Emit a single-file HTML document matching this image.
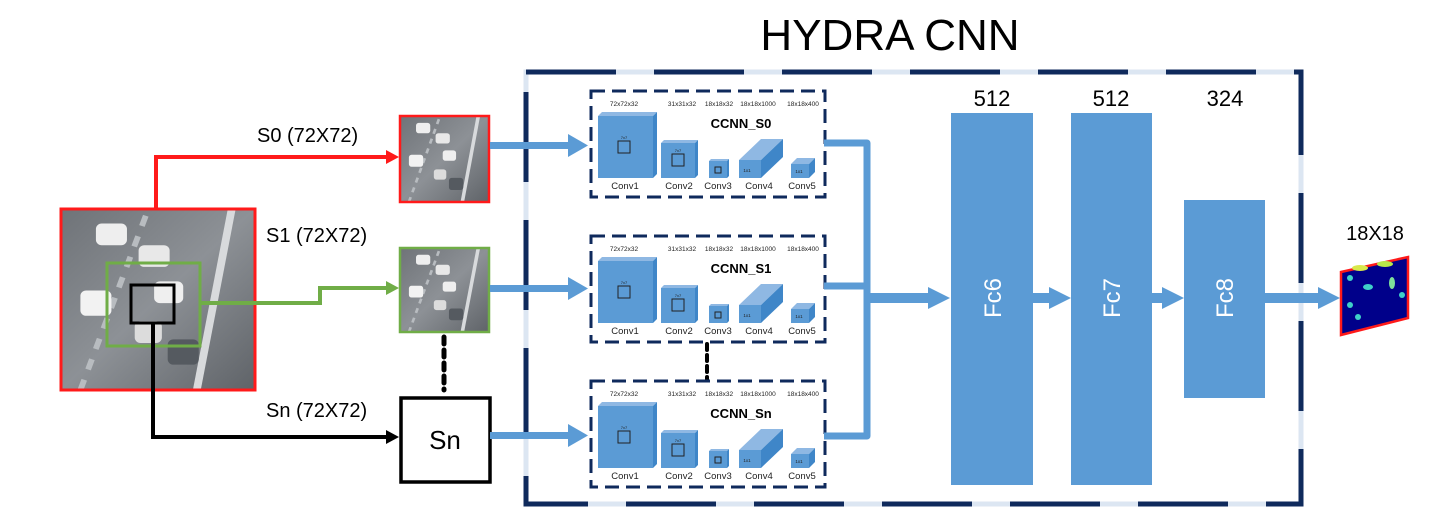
<!DOCTYPE html>
<html><head><meta charset="utf-8">
<style>
html,body{margin:0;padding:0;background:#fff;}
svg{display:block;}
text{font-family:"Liberation Sans","DejaVu Sans",sans-serif;}
</style></head>
<body>
<svg width="1434" height="530" viewBox="0 0 1434 530" xmlns="http://www.w3.org/2000/svg">
<defs>
  <linearGradient id="road" x1="0" y1="0" x2="1" y2="1">
    <stop offset="0" stop-color="#6f7378"/>
    <stop offset="0.5" stop-color="#8d9196"/>
    <stop offset="1" stop-color="#5f6368"/>
  </linearGradient>
  <g id="cube">
    <!-- generic placeholder unused -->
  </g>
  <g id="ccnn">
    <rect x="0" y="0" width="234" height="106" fill="#fff" stroke="#0f2a5c" stroke-width="3" stroke-dasharray="14 7"/>
    <g font-size="6.5" fill="#222" text-anchor="middle">
      <text x="33" y="15">72x72x32</text>
      <text x="91" y="15">31x31x32</text>
      <text x="128" y="15">18x18x32</text>
      <text x="167" y="15">18x18x1000</text>
      <text x="212" y="15">18x18x400</text>
    </g>
    <text x="150" y="37" font-size="13" font-weight="bold" text-anchor="middle" fill="#000">CCNN_S0</text>
    <!-- conv1 -->
    <polygon points="7,25 11,21 66,21 62,25" fill="#8fb8e3"/>
    <polygon points="62,25 66,21 66,83 62,87" fill="#3f86c8"/>
    <rect x="7" y="25" width="55" height="62" fill="#5b9bd5"/>
    <rect x="27" y="50" width="12" height="12" fill="none" stroke="#222" stroke-width="1"/>
    <text x="33" y="48" font-size="4" text-anchor="middle" fill="#222">7x7</text>
    <!-- conv2 -->
    <polygon points="70,52 73,49 107,49 104,52" fill="#8fb8e3"/>
    <polygon points="104,52 107,49 107,84 104,87" fill="#3f86c8"/>
    <rect x="70" y="52" width="34" height="35" fill="#5b9bd5"/>
    <rect x="81" y="63" width="12" height="12" fill="none" stroke="#222" stroke-width="1"/>
    <text x="87" y="61" font-size="4" text-anchor="middle" fill="#222">7x7</text>
    <!-- conv3 -->
    <polygon points="118,70 120,68 138,68 136,70" fill="#8fb8e3"/>
    <polygon points="136,70 138,68 138,85 136,87" fill="#3f86c8"/>
    <rect x="118" y="70" width="18" height="17" fill="#5b9bd5"/>
    <rect x="124" y="76" width="6" height="6" fill="none" stroke="#222" stroke-width="1"/>
    <!-- conv4 -->
    <polygon points="148,69 170,48 192,48 170,69" fill="#8fb8e3"/>
    <polygon points="170,69 192,48 192,66 170,87" fill="#3f86c8"/>
    <rect x="148" y="69" width="22" height="18" fill="#5b9bd5"/>
    <text x="156" y="81" font-size="4.5" text-anchor="middle" fill="#222">1x1</text>
    <!-- conv5 -->
    <polygon points="200,73 206,67 224,67 218,73" fill="#8fb8e3"/>
    <polygon points="218,73 224,67 224,81 218,87" fill="#3f86c8"/>
    <rect x="200" y="73" width="18" height="14" fill="#5b9bd5"/>
    <text x="208" y="82" font-size="4.5" text-anchor="middle" fill="#222">1x1</text>
    <g font-size="9.5" fill="#222" text-anchor="middle">
      <text x="34" y="98">Conv1</text>
      <text x="88" y="98">Conv2</text>
      <text x="127" y="98">Conv3</text>
      <text x="168" y="98">Conv4</text>
      <text x="211" y="98">Conv5</text>
    </g>
  </g>
  <g id="cars">
    <rect x="0" y="0" width="100" height="100" fill="url(#road)"/>
    <path d="M10 100 L45 0" stroke="#b8bcc0" stroke-width="3" stroke-dasharray="6 6"/>
    <path d="M70 100 L88 0" stroke="#d8dadc" stroke-width="4"/>
    <rect x="18" y="8" width="16" height="12" rx="3" fill="#eeeeee"/>
    <rect x="40" y="20" width="16" height="12" rx="3" fill="#e8e8e8"/>
    <rect x="10" y="45" width="16" height="14" rx="3" fill="#f2f2f2"/>
    <rect x="48" y="40" width="15" height="12" rx="3" fill="#efefef"/>
    <rect x="38" y="62" width="14" height="12" rx="3" fill="#dcdcdc"/>
    <rect x="55" y="72" width="16" height="14" rx="3" fill="#555a60"/>
  </g>
</defs>

<!-- Title -->
<text x="890" y="50" font-size="44" text-anchor="middle" fill="#000">HYDRA CNN</text>

<!-- big outer dashed box -->
<rect x="526" y="72" width="775" height="432" fill="none" stroke="#dce6f2" stroke-width="5"/>
<rect x="526" y="72" width="775" height="432" fill="none" stroke="#0f2a5c" stroke-width="5" stroke-dasharray="90 38"/>

<!-- input image -->
<svg x="61" y="209" width="194" height="181" viewBox="0 0 100 100" preserveAspectRatio="none"><use href="#cars"/></svg>
<rect x="61" y="209" width="194" height="181" fill="none" stroke="#ff1a1a" stroke-width="3"/>
<rect x="107" y="263" width="93" height="83" fill="none" stroke="#70ad47" stroke-width="3"/>
<rect x="131" y="285" width="43" height="38" fill="none" stroke="#000" stroke-width="3"/>

<!-- red connector -->
<polyline points="156,209 156,157 388,157" fill="none" stroke="#ff1a1a" stroke-width="4"/>
<polygon points="386,150 399,157 386,164" fill="#ff1a1a"/>
<text x="257" y="142" font-size="20" fill="#000">S0 (72X72)</text>

<!-- green connector -->
<polyline points="200,303 320,303 320,288 388,288" fill="none" stroke="#70ad47" stroke-width="4"/>
<polygon points="386,281 399,288 386,295" fill="#70ad47"/>
<text x="266" y="242" font-size="20" fill="#000">S1 (72X72)</text>

<!-- black connector -->
<polyline points="153,323 153,437 388,437" fill="none" stroke="#000" stroke-width="4"/>
<polygon points="386,430 399,437 386,444" fill="#000"/>
<text x="266" y="417" font-size="20" fill="#000">Sn (72X72)</text>

<!-- S0 image -->
<svg x="400" y="116" width="89" height="86" viewBox="0 0 100 100" preserveAspectRatio="none"><use href="#cars"/></svg>
<rect x="400" y="116" width="89" height="86" fill="none" stroke="#ff1a1a" stroke-width="2.5"/>
<!-- S1 image -->
<svg x="400" y="248" width="89" height="84" viewBox="0 0 100 100" preserveAspectRatio="none"><use href="#cars"/></svg>
<rect x="400" y="248" width="89" height="84" fill="none" stroke="#70ad47" stroke-width="2.5"/>
<!-- dots -->
<line x1="444" y1="337" x2="444" y2="390" stroke="#000" stroke-width="5" stroke-dasharray="7 6" stroke-linecap="round"/>
<!-- Sn box -->
<rect x="401" y="398" width="89" height="84" fill="#fff" stroke="#000" stroke-width="3.5"/>
<text x="445" y="449" font-size="26" text-anchor="middle" fill="#000">Sn</text>

<!-- blue input arrows -->
<g fill="#5b9bd5" stroke="none">
  <rect x="490" y="142" width="80" height="7"/>
  <polygon points="568,134 588,145.5 568,157"/>
  <rect x="490" y="285" width="80" height="7"/>
  <polygon points="568,277 588,288.5 568,300"/>
  <rect x="490" y="432" width="80" height="7"/>
  <polygon points="568,424 588,435.5 568,447"/>
</g>

<!-- CCNN boxes -->
<use href="#ccnn" x="591" y="91"/>
<g transform="translate(591,236)">
  <use href="#ccnn"/>
  <rect x="110" y="25" width="90" height="16" fill="#fff"/>
  <text x="150" y="37" font-size="13" font-weight="bold" text-anchor="middle" fill="#000">CCNN_S1</text>
</g>
<line x1="707" y1="344" x2="707" y2="380" stroke="#000" stroke-width="4" stroke-dasharray="6 5" stroke-linecap="round"/>
<g transform="translate(591,381)">
  <use href="#ccnn"/>
  <rect x="110" y="25" width="90" height="16" fill="#fff"/>
  <text x="150" y="37" font-size="13" font-weight="bold" text-anchor="middle" fill="#000">CCNN_Sn</text>
</g>

<!-- merge connectors -->
<g fill="none" stroke="#5b9bd5" stroke-width="7" stroke-linejoin="round">
  <polyline points="824,143 867,143 867,436 824,436"/>
  <line x1="824" y1="286" x2="867" y2="286"/>
</g>
<g fill="#5b9bd5">
  <rect x="867" y="293" width="62" height="10"/>
  <polygon points="928,287 950,298 928,309"/>
  <rect x="1033" y="293" width="18" height="10"/>
  <polygon points="1049,287 1071,298 1049,309"/>
  <rect x="1152" y="293" width="12" height="10"/>
  <polygon points="1162,287 1184,298 1162,309"/>
  <rect x="1265" y="293" width="57" height="10"/>
  <polygon points="1318,287 1340,298 1318,309"/>
</g>

<!-- FC layers -->
<rect x="951" y="113" width="82" height="372" fill="#5b9bd5"/>
<rect x="1071" y="113" width="81" height="372" fill="#5b9bd5"/>
<rect x="1184" y="200" width="81" height="198" fill="#5b9bd5"/>
<text x="992" y="106" font-size="22" text-anchor="middle" fill="#000">512</text>
<text x="1111" y="106" font-size="22" text-anchor="middle" fill="#000">512</text>
<text x="1225" y="106" font-size="22" text-anchor="middle" fill="#000">324</text>
<text transform="translate(1001,298) rotate(-90)" font-size="24" text-anchor="middle" fill="#fff">Fc6</text>
<text transform="translate(1120,298) rotate(-90)" font-size="24" text-anchor="middle" fill="#fff">Fc7</text>
<text transform="translate(1233,298) rotate(-90)" font-size="24" text-anchor="middle" fill="#fff">Fc8</text>

<!-- output heatmap -->
<text x="1375" y="240" font-size="20" text-anchor="middle" fill="#000">18X18</text>
<polygon points="1341,272 1408,257 1408,318 1341,335" fill="#00008a" stroke="#ff1a1a" stroke-width="2.5"/>
<g fill="#3fd0c8">
  <ellipse cx="1360" cy="268" rx="8" ry="3" fill="#d8e84a"/>
  <ellipse cx="1385" cy="264" rx="8" ry="3" fill="#b8e84a"/>
  <circle cx="1350" cy="278" r="3"/>
  <ellipse cx="1368" cy="287" rx="5" ry="3"/>
  <ellipse cx="1392" cy="283" rx="3" ry="6" fill="#7fe09a"/>
  <circle cx="1402" cy="295" r="3"/>
  <circle cx="1350" cy="305" r="3"/>
  <circle cx="1358" cy="317" r="3"/>
</g>
</svg>
</body></html>
